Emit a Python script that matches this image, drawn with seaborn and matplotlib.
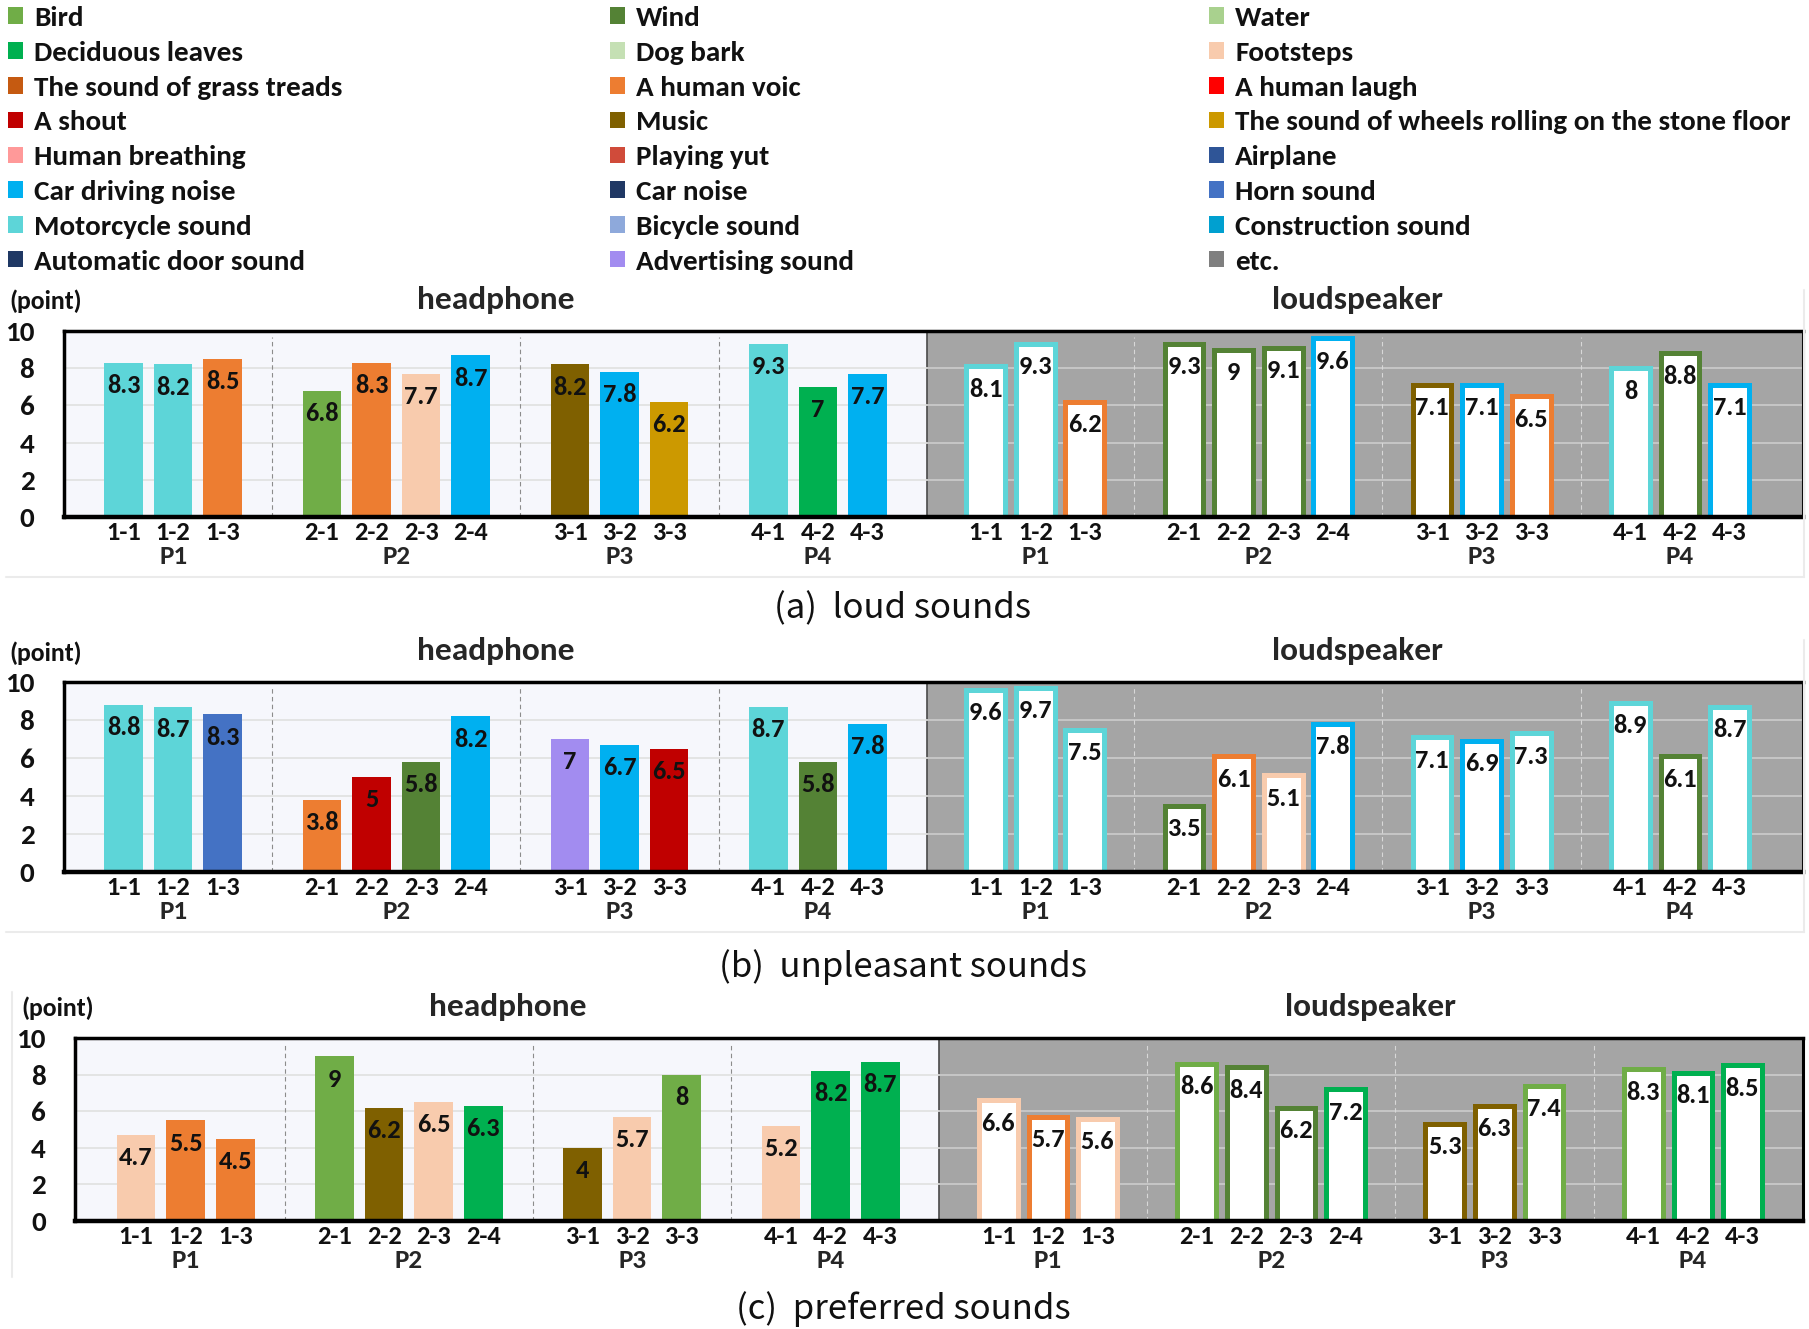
import numpy as np
import pandas as pd
import matplotlib
matplotlib.use('Agg')
import matplotlib.pyplot as plt
import seaborn as sns
from matplotlib import font_manager
from matplotlib.patches import Patch
from matplotlib.lines import Line2D

# --- legend entries, column by column as laid out in the figure ---
legend_col1 = ['Bird', 'Deciduous leaves', 'The sound of grass treads', 'A shout',
               'Human breathing', 'Car driving noise', 'Motorcycle sound', 'Automatic door sound']
legend_col2 = ['Wind', 'Dog bark', 'A human voic', 'Music', 'Playing yut', 'Car noise',
               'Bicycle sound', 'Advertising sound']
legend_col3 = ['Water', 'Footsteps', 'A human laugh', 'The sound of wheels rolling on the stone floor',
               'Airplane', 'Horn sound', 'Construction sound', 'etc.']
colors_col1 = ['#70AD47', '#00B050', '#C55A11', '#C00000', '#FF9999', '#00B0F0', '#5DD5D8', '#1F3864']
colors_col2 = ['#548235', '#C5E0B4', '#ED7D31', '#7F6000', '#D04B3A', '#203864', '#8EA9DB', '#A28CF0']
colors_col3 = ['#A9D18E', '#F8CBAD', '#FF0000', '#CC9900', '#2F5597', '#4472C4', '#00A0D0', '#7F7F7F']

sub_labels = ['1-1', '1-2', '1-3', '2-1', '2-2', '2-3', '2-4', '3-1', '3-2', '3-3', '4-1', '4-2', '4-3']
group_labels = ['P1', 'P2', 'P3', 'P4']
group_sizes = [3, 4, 3, 3]

# (a) loud sounds
loud_head_vals = [8.3, 8.2, 8.5, 6.8, 8.3, 7.7, 8.7, 8.2, 7.8, 6.2, 9.3, 7, 7.7]
loud_head_snd = ['Motorcycle sound', 'Motorcycle sound', 'A human voic', 'Bird', 'A human voic', 'Footsteps',
                 'Car driving noise', 'Music', 'Car driving noise',
                 'The sound of wheels rolling on the stone floor', 'Motorcycle sound', 'Deciduous leaves',
                 'Car driving noise']
loud_spk_vals = [8.1, 9.3, 6.2, 9.3, 9, 9.1, 9.6, 7.1, 7.1, 6.5, 8, 8.8, 7.1]
loud_spk_snd = ['Motorcycle sound', 'Motorcycle sound', 'A human voic', 'Wind', 'Wind', 'Wind',
                'Car driving noise', 'Music', 'Car driving noise', 'A human voic', 'Motorcycle sound', 'Wind',
                'Car driving noise']

# (b) unpleasant sounds
unpl_head_vals = [8.8, 8.7, 8.3, 3.8, 5, 5.8, 8.2, 7, 6.7, 6.5, 8.7, 5.8, 7.8]
unpl_head_snd = ['Motorcycle sound', 'Motorcycle sound', 'Horn sound', 'A human voic', 'A shout', 'Wind',
                 'Car driving noise', 'Advertising sound', 'Car driving noise', 'A shout', 'Motorcycle sound',
                 'Wind', 'Car driving noise']
unpl_spk_vals = [9.6, 9.7, 7.5, 3.5, 6.1, 5.1, 7.8, 7.1, 6.9, 7.3, 8.9, 6.1, 8.7]
unpl_spk_snd = ['Motorcycle sound', 'Motorcycle sound', 'Motorcycle sound', 'Wind', 'A human voic', 'Footsteps',
                'Car driving noise', 'Motorcycle sound', 'Car driving noise', 'Motorcycle sound',
                'Motorcycle sound', 'Wind', 'Motorcycle sound']

# (c) preferred sounds
pref_head_vals = [4.7, 5.5, 4.5, 9, 6.2, 6.5, 6.3, 4, 5.7, 8, 5.2, 8.2, 8.7]
pref_head_snd = ['Footsteps', 'A human voic', 'A human voic', 'Bird', 'Music', 'Footsteps', 'Deciduous leaves',
                 'Music', 'Footsteps', 'Bird', 'Footsteps', 'Deciduous leaves', 'Deciduous leaves']
pref_spk_vals = [6.6, 5.7, 5.6, 8.6, 8.4, 6.2, 7.2, 5.3, 6.3, 7.4, 8.3, 8.1, 8.5]
pref_spk_snd = ['Footsteps', 'A human voic', 'Footsteps', 'Bird', 'Wind', 'Wind', 'Deciduous leaves',
                'Music', 'Music', 'Bird', 'Bird', 'Deciduous leaves', 'Deciduous leaves']

sound_color = dict(zip(legend_col1 + legend_col2 + legend_col3, colors_col1 + colors_col2 + colors_col3))

# --- fonts ---
sns.set_theme(style='white')
available = {f.name for f in font_manager.fontManager.ttflist}
MAIN_FONT = next((f for f in ['Carlito', 'Lato', 'Open Sans'] if f in available), 'DejaVu Sans')
plt.rcParams['font.family'] = [MAIN_FONT, 'DejaVu Sans']
plt.rcParams['font.weight'] = 'bold'

W, H = 1809, 1329
fig = plt.figure(figsize=(W / 100, H / 100), dpi=100)
fig.patch.set_facecolor('white')


def px_box(l, t, r, b):
    return [l / W, 1 - b / H, (r - l) / W, (b - t) / H]


# slot positions of the sub-categories on one side
slot_pos, seps, centers = [], [], []
start = 0
for n in group_sizes:
    slot_pos += list(range(start, start + n))
    centers.append(start + (n - 1) / 2)
    start += n + 1
    seps.append(start - 1)
seps = seps[:-1]
SPK_SHIFT = 17.38
BOUNDARY = 16.19
MID = (slot_pos[0] + slot_pos[-1]) / 2


def draw_panel(box, xlim, head_vals, head_snd, spk_vals, spk_snd):
    ax = fig.add_axes(px_box(*box))
    ax.set_facecolor('none')
    hx = np.array(slot_pos, dtype=float)
    sx = hx + SPK_SHIFT

    # background: headphone light, loudspeaker grey
    ax.axvspan(xlim[0], BOUNDARY, color='#F6F7FC', zorder=0, lw=0)
    ax.axvspan(BOUNDARY, xlim[1], color='#A5A5A5', zorder=0, lw=0)
    ax.axvline(BOUNDARY, color='#4A4A4A', lw=1.2, zorder=1)
    for yv in [2, 4, 6, 8]:
        ax.plot([xlim[0], BOUNDARY], [yv, yv], color='#E2E2E2', lw=1.3, zorder=1)
        ax.plot([BOUNDARY, xlim[1]], [yv, yv], color='#C9C9C9', lw=1.3, zorder=1)
    for s in seps:
        ax.axvline(s, ymax=0.97, color='#8C8C8C', ls=(0, (4, 3)), lw=0.8, zorder=1)
        ax.axvline(s + SPK_SHIFT, ymax=0.97, color='#D8D8D8', ls=(0, (4, 3)), lw=0.8, zorder=1)

    df_h = pd.DataFrame({'pos': hx, 'score': head_vals})
    df_s = pd.DataFrame({'pos': sx, 'score': spk_vals})
    sns.barplot(data=df_h, x='pos', y='score', native_scale=True, width=0.78,
                errorbar=None, color='white', ax=ax, zorder=3)
    for patch, snd in zip(ax.containers[-1], head_snd):
        patch.set_facecolor(sound_color[snd])
        patch.set_edgecolor('none')
    sns.barplot(data=df_s, x='pos', y='score', native_scale=True, width=0.78,
                errorbar=None, color='white', ax=ax, zorder=3)
    for patch, snd in zip(ax.containers[-1], spk_snd):
        patch.set_facecolor('white')
        patch.set_edgecolor(sound_color[snd])
        patch.set_linewidth(3.6)

    for x, v in list(zip(hx, head_vals)) + list(zip(sx, spk_vals)):
        ax.annotate(f'{v:g}', (x, v), xytext=(0, -16.5), textcoords='offset points',
                    ha='center', va='center', fontsize=19, color='#111111', zorder=5)

    ax.set_xlim(*xlim)
    ax.set_ylim(0, 10)
    ax.set_xlabel('')
    ax.set_ylabel('')
    ax.set_xticks(list(hx) + list(sx), sub_labels * 2)
    ax.set_yticks(range(0, 11, 2))
    ax.tick_params(axis='x', length=0, pad=3, labelsize=19, colors='#111111')
    ax.tick_params(axis='y', length=0, pad=21, labelsize=21, colors='#111111')
    for name, lw in [('top', 2.5), ('bottom', 3.2), ('left', 2.5), ('right', 2.2)]:
        ax.spines[name].set_visible(True)
        ax.spines[name].set_color('black')
        ax.spines[name].set_linewidth(lw)
        ax.spines[name].set_zorder(6)

    for c, g in zip(centers, group_labels):
        for shift in (0, SPK_SHIFT):
            ax.annotate(g, (c + shift, 0), xycoords=('data', 'axes fraction'), xytext=(0, -28.5),
                        textcoords='offset points', ha='center', va='center', fontsize=19.5)
    ax.annotate('headphone', (MID, 1), xycoords=('data', 'axes fraction'), xytext=(0, 22),
                textcoords='offset points', ha='center', va='center', fontsize=24)
    ax.annotate('loudspeaker', (MID + SPK_SHIFT, 1), xycoords=('data', 'axes fraction'), xytext=(0, 22),
                textcoords='offset points', ha='center', va='center', fontsize=24)
    return ax


draw_panel((63.5, 331, 1803, 517), (-1.21, 33.86), loud_head_vals, loud_head_snd, loud_spk_vals, loud_spk_snd)
draw_panel((63.5, 682, 1803, 872), (-1.21, 33.86), unpl_head_vals, unpl_head_snd, unpl_spk_vals, unpl_spk_snd)
draw_panel((75, 1038, 1803, 1221), (-1.23, 33.6), pref_head_vals, pref_head_snd, pref_spk_vals, pref_spk_snd)

# unit labels
for (x, y) in [(9, 301), (9, 653), (21, 1008)]:
    fig.text(x / W, 1 - y / H, '(point)', ha='left', va='center', fontsize=18.5, color='#111111')

# captions
cap_font = ['Noto Sans CJK KR', 'DejaVu Sans']
for txt, y in [('(a)  loud sounds', 609), ('(b)  unpleasant sounds', 967), ('(c)  preferred sounds', 1309)]:
    fig.text(903 / W, 1 - y / H, txt, ha='center', va='center', fontsize=25,
             fontweight='normal', family=cap_font, color='#111111')

# faint borders of the original chart images
for (x0, y0, x1, y1) in [(6, 577, 1804, 577), (6, 932, 1804, 932), (1804, 290, 1804, 577),
                         (1804, 640, 1804, 932), (12, 992, 12, 1277)]:
    fig.add_artist(Line2D([x0 / W, x1 / W], [1 - y0 / H, 1 - y1 / H], color='#EBEBEB', lw=1.5))

# legend, three columns
for names, cols, x in [(legend_col1, colors_col1, 8), (legend_col2, colors_col2, 610),
                       (legend_col3, colors_col3, 1209)]:
    handles = [Patch(facecolor=c, edgecolor='none', label=n) for n, c in zip(names, cols)]
    fig.legend(handles=handles, loc='upper left', bbox_to_anchor=(x / W, 1 - 6 / H),
               frameon=False, fontsize=21, borderpad=0, borderaxespad=0, handlelength=0.5,
               handleheight=0.5, handletextpad=0.4, labelspacing=0.37, labelcolor='#111111')

fig.savefig('out.png', dpi=100)
